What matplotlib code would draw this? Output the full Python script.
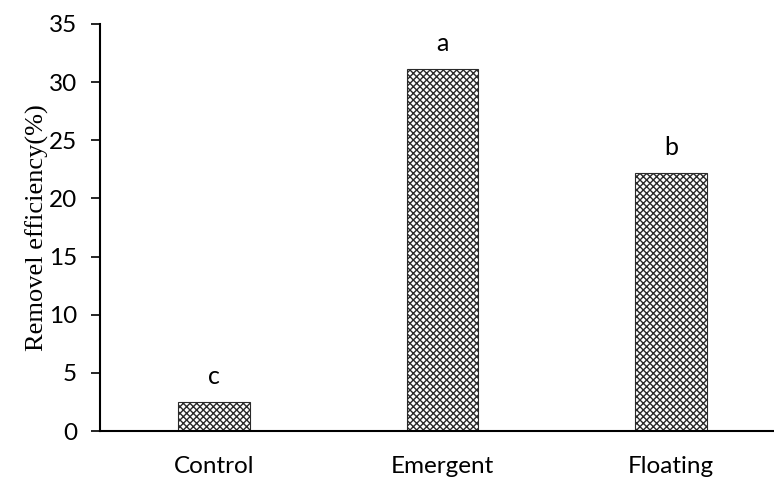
import matplotlib
matplotlib.use("Agg")
import matplotlib.pyplot as plt

categories = ["Control", "Emergent", "Floating"]
values = [2.5, 31.1, 22.2]
letters = ["c", "a", "b"]
yticks = [0, 5, 10, 15, 20, 25, 30, 35]

plt.rcParams['hatch.linewidth'] = 1.0

fig = plt.figure(figsize=(7.74, 4.8), dpi=100)
ax = fig.add_axes([100/774, 49/480, 685/774, 407/480])

x = list(range(len(categories)))
ax.bar(x, values, width=0.315, color="white", edgecolor="#2a2a2a",
       hatch="xxxxx", linewidth=0.8)

for xi, v, l in zip(x, values, letters):
    ax.annotate(l, (xi, v), xytext=(0, 10), textcoords="offset points",
                ha="center", va="bottom", fontsize=18, family="Lato")

ax.set_xlim(-0.5, 2.5)
ax.set_ylim(0, 35)
ax.set_yticks(yticks)
ax.set_xticks(x)
ax.set_xticklabels(categories, fontsize=17.5, family="Lato")
ax.tick_params(axis="y", labelsize=17.5, length=6.5, width=1.2, direction="out", pad=10)
ax.tick_params(axis="x", length=0, pad=18)
for lab in ax.get_yticklabels():
    lab.set_family("Lato")
ax.spines["top"].set_visible(False)
ax.spines["right"].set_visible(False)
ax.spines["left"].set_linewidth(1.5)
ax.spines["bottom"].set_linewidth(1.5)
ax.set_ylabel("Removel efficiency(%)", fontsize=19, family="Liberation Serif", labelpad=0)

fig.savefig("out.png", dpi=100)
